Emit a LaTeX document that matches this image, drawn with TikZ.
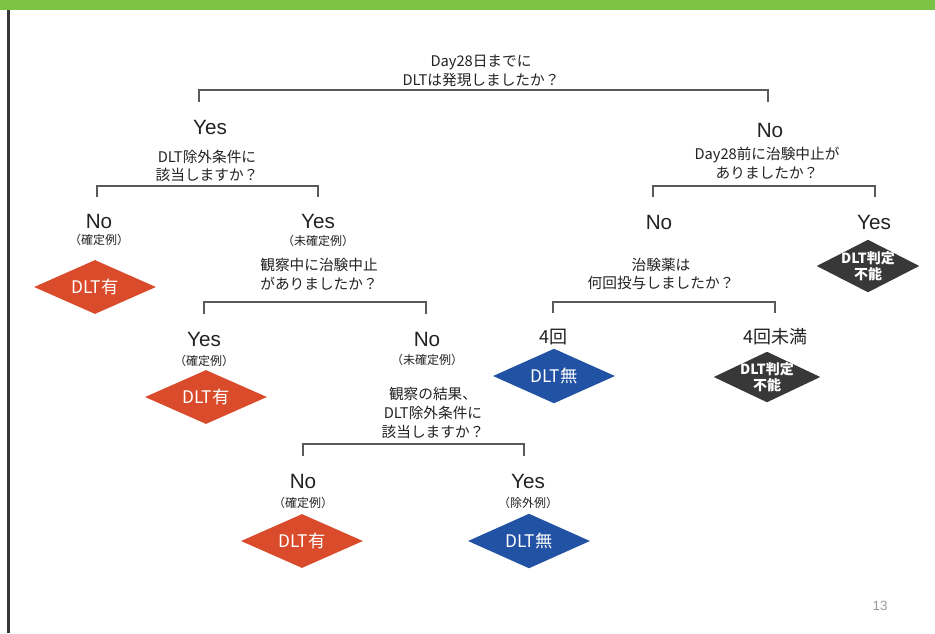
\documentclass[tikz,border=0pt]{standalone}
\usepackage{fontspec}
\setmainfont{Liberation Sans}
\newfontfamily\jp{Noto Sans CJK JP}
\usetikzlibrary{shapes.geometric}
\definecolor{barg}{HTML}{7CC243}
\definecolor{redd}{HTML}{DA4B2C}
\definecolor{blued}{HTML}{2152A3}
\definecolor{darkd}{HTML}{383838}
\definecolor{txt}{HTML}{222222}
\definecolor{brk}{HTML}{5A5A5A}
\tikzset{
  ans/.style={font=\fontsize{15.5}{18}\selectfont, text=txt, inner sep=0pt},
  ansjp/.style={font=\jp\fontsize{13.5}{16}\selectfont, text=txt, inner sep=0pt},
  subl/.style={font=\jp\fontsize{9}{10}\selectfont, text=txt, inner sep=0pt},
  qtext/.style={font=\jp\fontsize{11}{14}\selectfont, text=txt, align=center, inner sep=0pt},
  dia/.style={diamond, draw=none, inner sep=0pt},
  reddia/.style={dia, fill=redd, minimum width=91.5pt, minimum height=40.5pt},
  bluedia/.style={dia, fill=blued, minimum width=91.5pt, minimum height=41pt},
  darkdia/.style={dia, fill=darkd, minimum width=77pt, minimum height=39.5pt},
  dlab/.style={font=\jp\fontsize{13}{14}\selectfont, text=white, inner sep=0pt},
  dlabs/.style={font=\jp\bfseries\fontsize{10.5}{12.5}\selectfont, text=white, align=center, inner sep=0pt},
  brline/.style={draw=brk, line width=1.4pt},
}
\begin{document}
\begin{tikzpicture}[x=0.75pt,y=-0.75pt]
\useasboundingbox (0,0) rectangle (935,633);
\fill[white] (0,0) rectangle (935,633);
% header bar and left border
\fill[barg] (0,0) rectangle (935,10);
\draw[line width=1.6pt, color=darkd] (8.5,10) -- (8.5,633);

% ---- Q1
\node[qtext] (q1) at (481,70.5) {Day28日までに\\DLTは発現しましたか？};
\coordinate (q1L) at (199,102);
\coordinate (q1R) at (768,102);
\draw[brline] (q1L) -- ++(0,-12) -| (q1R);

% ---- left branch: Yes
\node[ans] (y1) at (210,127) {Yes};
\node[qtext] (q2) at (207,166) {DLT除外条件に\\該当しますか？};
\coordinate (q2L) at (97,197);
\coordinate (q2R) at (318,197);
\draw[brline] (q2L) -- ++(0,-11) -| (q2R);

\node[ans] (n2) at (99,221) {No};
\node[subl] (n2s) at (99,240) {（確定例）};
\node[reddia, label={[dlab]center:DLT有}] (d1) at (95,287) {};

\node[ans] (y2) at (318,221) {Yes};
\node[subl] (y2s) at (318,241) {（未確定例）};
\node[qtext] (q3) at (319,274) {観察中に治験中止\\がありましたか？};
\coordinate (q3L) at (204,314);
\coordinate (q3R) at (426,314);
\draw[brline] (q3L) -- ++(0,-12) -| (q3R);

\node[ans] (y3) at (204,339) {Yes};
\node[subl] (y3s) at (204,361) {（確定例）};
\node[reddia, label={[dlab]center:DLT有}] (d2) at (206,397) {};

\node[ans] (n3) at (427,339) {No};
\node[subl] (n3s) at (427,360) {（未確定例）};
\node[qtext] (q4) at (433,413) {観察の結果、\\DLT除外条件に\\該当しますか？};
\coordinate (q4L) at (303,456);
\coordinate (q4R) at (524,456);
\draw[brline] (q4L) -- ++(0,-12) -| (q4R);

\node[ans] (n4) at (303,481) {No};
\node[subl] (n4s) at (303,503) {（確定例）};
\node[reddia, label={[dlab]center:DLT有}] (d3) at (302,541) {};

\node[ans] (y4) at (528,481) {Yes};
\node[subl] (y4s) at (528,503) {（除外例）};
\node[bluedia, label={[dlab]center:DLT無}] (d4) at (529,541) {};

% ---- right branch: No
\node[ans] (n1) at (770,130) {No};
\node[qtext] (q5) at (767,163) {Day28前に治験中止が\\ありましたか？};
\coordinate (q5L) at (653,197);
\coordinate (q5R) at (875,197);
\draw[brline] (q5L) -- ++(0,-11) -| (q5R);

\node[ans] (y5) at (874,222) {Yes};
\node[darkdia, label={[dlabs]center:DLT判定\\不能}] (d5) at (868,266) {};

\node[ans] (n5) at (659,222) {No};
\node[qtext] (q6) at (661,274) {治験薬は\\何回投与しましたか？};
\coordinate (q6L) at (553,313);
\coordinate (q6R) at (775,313);
\draw[brline] (q6L) -- ++(0,-11) -| (q6R);

\node[ansjp] (a6) at (553,337) {4回};
\node[bluedia, label={[dlab]center:DLT無}] (d6) at (554,376) {};

\node[ansjp] (b6) at (775,337) {4回未満};
\node[darkdia, minimum width=80pt, minimum height=38pt, label={[dlabs]center:DLT判定\\不能}] (d7) at (767,377) {};

% page number
\node[font=\fontsize{10}{12}\selectfont, text=gray!80, inner sep=0pt] (pg) at (880,606) {13};
\end{tikzpicture}
\end{document}
